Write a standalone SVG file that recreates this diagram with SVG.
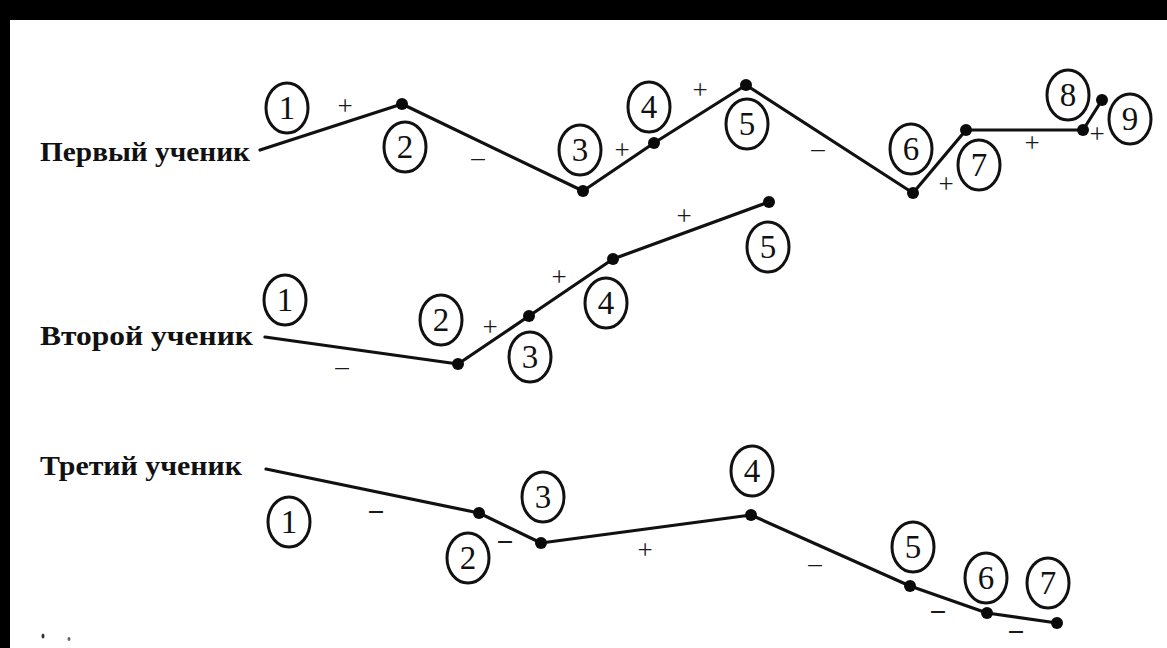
<svg xmlns="http://www.w3.org/2000/svg" width="1167" height="648" viewBox="0 0 1167 648">
<style>
.lbl{font-family:"Liberation Serif","Times New Roman",serif;font-size:28px;font-weight:bold;fill:#111}
.num{font-family:"Liberation Serif","Times New Roman",serif;font-size:33px;fill:#111;text-anchor:middle;dominant-baseline:central}
.ring{fill:none;stroke:#111;stroke-width:3}
.path{fill:none;stroke:#111;stroke-width:3.2;stroke-linejoin:round;stroke-linecap:round}
.dot{fill:#0a0a0a}
.sign{font-family:"Liberation Serif","Times New Roman",serif;font-size:27px;fill:#1a1a1a;text-anchor:middle;dominant-baseline:central}
</style>
<defs>
<ellipse id="ring" class="ring" cx="0" cy="0" rx="21" ry="25"/>
</defs>
<rect x="0" y="0" width="1167" height="648" fill="#ffffff"/>
<rect x="0" y="0" width="1167" height="20" fill="#000"/>
<rect x="0" y="0" width="10" height="648" fill="#000"/>

<g id="labels">
<text class="lbl" x="40" y="161" textLength="210" lengthAdjust="spacingAndGlyphs">Первый ученик</text>
<text class="lbl" x="40" y="345" textLength="213" lengthAdjust="spacingAndGlyphs">Второй ученик</text>
<text class="lbl" x="40" y="475" textLength="202" lengthAdjust="spacingAndGlyphs">Третий ученик</text>
</g>

<g id="connectors">
<polyline class="path" points="260,150 402,104 583,191 654,143 746,85 913,193 966,130 1083,130 1102,100"/>
<polyline class="path" points="265,337 458,364 529,316 613,259 769,202"/>
<polyline class="path" points="266,469 479,513 541,543 751,515 910,586 987,613 1057,623"/>
</g>

<g id="dots">
<circle class="dot" cx="402" cy="104" r="6"/>
<circle class="dot" cx="583" cy="191" r="6"/>
<circle class="dot" cx="654" cy="143" r="6"/>
<circle class="dot" cx="746" cy="85" r="6"/>
<circle class="dot" cx="913" cy="193" r="6"/>
<circle class="dot" cx="966" cy="130" r="6"/>
<circle class="dot" cx="1083" cy="130" r="6"/>
<circle class="dot" cx="1102" cy="100" r="6"/>
<circle class="dot" cx="458" cy="364" r="6"/>
<circle class="dot" cx="529" cy="316" r="6"/>
<circle class="dot" cx="613" cy="259" r="6"/>
<circle class="dot" cx="769" cy="202" r="6"/>
<circle class="dot" cx="479" cy="513" r="6"/>
<circle class="dot" cx="541" cy="543" r="6"/>
<circle class="dot" cx="751" cy="515" r="6"/>
<circle class="dot" cx="910" cy="586" r="6"/>
<circle class="dot" cx="987" cy="613" r="6"/>
<circle class="dot" cx="1057" cy="623" r="6"/>
</g>

<g id="row1">
<g id="r1n1"><use href="#ring" x="287" y="108"/><text class="num" x="287" y="108">1</text></g>
<g id="r1n2"><use href="#ring" x="405" y="147"/><text class="num" x="405" y="147">2</text></g>
<g id="r1n3"><use href="#ring" x="580" y="150"/><text class="num" x="580" y="150">3</text></g>
<g id="r1n4"><use href="#ring" x="649" y="107"/><text class="num" x="649" y="107">4</text></g>
<g id="r1n5"><use href="#ring" x="747" y="124"/><text class="num" x="747" y="124">5</text></g>
<g id="r1n6"><use href="#ring" x="911" y="149"/><text class="num" x="911" y="149">6</text></g>
<g id="r1n7"><use href="#ring" x="979" y="165"/><text class="num" x="979" y="165">7</text></g>
<g id="r1n8"><use href="#ring" x="1068" y="95"/><text class="num" x="1068" y="95">8</text></g>
<g id="r1n9"><use href="#ring" x="1130" y="119"/><text class="num" x="1130" y="119">9</text></g>
</g>

<g id="row2">
<g id="r2n1"><use href="#ring" x="285" y="300"/><text class="num" x="285" y="300">1</text></g>
<g id="r2n2"><use href="#ring" x="441" y="320"/><text class="num" x="441" y="320">2</text></g>
<g id="r2n3"><use href="#ring" x="530" y="357"/><text class="num" x="530" y="357">3</text></g>
<g id="r2n4"><use href="#ring" x="606" y="303"/><text class="num" x="606" y="303">4</text></g>
<g id="r2n5"><use href="#ring" x="768" y="247"/><text class="num" x="768" y="247">5</text></g>
</g>

<g id="row3">
<g id="r3n1"><use href="#ring" x="289" y="522"/><text class="num" x="289" y="522">1</text></g>
<g id="r3n2"><use href="#ring" x="468" y="558"/><text class="num" x="468" y="558">2</text></g>
<g id="r3n3"><use href="#ring" x="543" y="497"/><text class="num" x="543" y="497">3</text></g>
<g id="r3n4"><use href="#ring" x="752" y="471"/><text class="num" x="752" y="471">4</text></g>
<g id="r3n5"><use href="#ring" x="913" y="547"/><text class="num" x="913" y="547">5</text></g>
<g id="r3n6"><use href="#ring" x="986" y="578"/><text class="num" x="986" y="578">6</text></g>
<g id="r3n7"><use href="#ring" x="1048" y="583"/><text class="num" x="1048" y="583">7</text></g>
</g>

<g id="signs">
<text class="sign" x="345" y="106">+</text>
<text class="sign" x="478" y="157">–</text>
<text class="sign" x="622" y="150">+</text>
<text class="sign" x="700" y="90">+</text>
<text class="sign" x="818" y="148">–</text>
<text class="sign" x="946" y="184">+</text>
<text class="sign" x="1032" y="143">+</text>
<text class="sign" x="1097" y="134">+</text>
<text class="sign" x="342" y="366">–</text>
<text class="sign" x="490" y="327">+</text>
<text class="sign" x="559" y="277">+</text>
<text class="sign" x="684" y="216">+</text>
<text class="sign" x="376" y="509" font-weight="bold">–</text>
<text class="sign" x="505" y="539" font-weight="bold">–</text>
<text class="sign" x="645" y="550">+</text>
<text class="sign" x="815" y="563">–</text>
<text class="sign" x="938" y="609" font-weight="bold">–</text>
<text class="sign" x="1016" y="629" font-weight="bold">–</text>
</g>

<g id="specks">
<ellipse cx="43" cy="636" rx="1.5" ry="2.5" fill="#333"/>
<ellipse cx="69" cy="639" rx="1.5" ry="2" fill="#666"/>
</g>
</svg>
